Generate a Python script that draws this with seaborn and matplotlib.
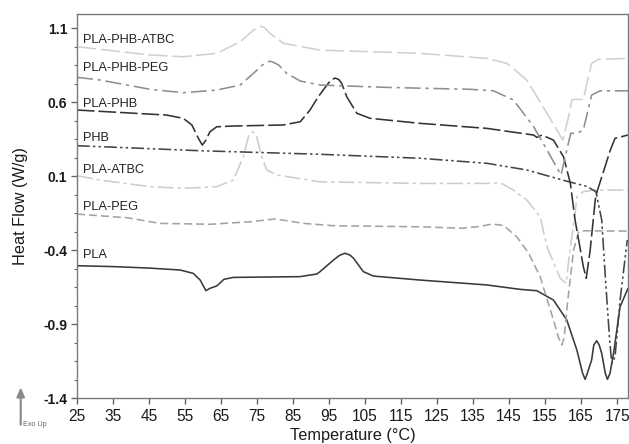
import numpy as np
import pandas as pd
import matplotlib
matplotlib.use("Agg")
import matplotlib.pyplot as plt
from matplotlib.ticker import FixedLocator
import seaborn as sns

# ---------------- data ----------------
pla_T = [25, 35, 45, 53.6, 57.3, 59.2, 60.8, 61.9, 63.8, 65.8, 68.4, 86.9, 91.6, 92.5, 96.2,
         97.9, 99.4, 100.8, 101.8, 104.5, 107.3, 120.3, 138.8, 148.1, 152.7, 157.3, 161,
         163.8, 165.4, 166.1, 166.7, 167.9, 168.5, 169.3, 170.0, 170.7, 171.7, 172.3, 173.0,
         174, 175.8, 178]
pla_v = [-0.506, -0.512, -0.522, -0.535, -0.558, -0.603, -0.675, -0.659, -0.643, -0.598,
         -0.585, -0.580, -0.562, -0.546, -0.468, -0.436, -0.422, -0.434, -0.456, -0.546,
         -0.576, -0.603, -0.636, -0.666, -0.675, -0.738, -0.873, -1.076, -1.233, -1.274,
         -1.233, -1.143, -1.042, -1.013, -1.042, -1.098, -1.233, -1.274, -1.233, -1.098,
         -0.783, -0.659]

plapeg_T = [25, 38.9, 48.1, 62, 73.1, 80.1, 88, 96.3, 120.3, 132, 137, 140.4, 143.5, 147.1,
            150.4, 153.6, 157.3, 158.7, 159.6, 160.3, 161.2, 162.9, 164.3, 166, 178]
plapeg_v = [-0.157, -0.182, -0.220, -0.226, -0.209, -0.190, -0.220, -0.236, -0.243, -0.253,
            -0.240, -0.224, -0.235, -0.310, -0.422, -0.580, -0.873, -0.990, -1.042, -0.990,
            -0.758, -0.400, -0.276, -0.270, -0.272]

plaatbc_T = [25, 31.4, 45.3, 54.5, 63.8, 68.4, 71.2, 72.6, 73.2, 73.7, 74.3, 74.9, 76.3, 77.7,
             80.5, 92.5, 120.3, 138.8, 142.5, 146.2, 149.9, 153.6, 155.5, 159.2, 160.8, 161.9,
             163.3, 163.8, 165.6, 168.4, 178]
plaatbc_v = [0.102, 0.073, 0.028, 0.017, 0.028, 0.073, 0.230, 0.365, 0.390, 0.399, 0.390,
             0.365, 0.230, 0.141, 0.107, 0.061, 0.050, 0.050, 0.055, 0.005, -0.062, -0.175,
             -0.378, -0.591, -0.625, -0.400, -0.152, -0.040, -0.006, 0.005, 0.005]

phb_T = [25, 59.2, 92.5, 120.3, 138.8, 149.9, 161, 166.6, 169.1, 170.7, 171.7, 172.9, 173.5,
         174.4, 175.8, 177.8]
phb_v = [0.305, 0.271, 0.247, 0.220, 0.186, 0.141, 0.065, 0.030, -0.006, -0.197, -0.580,
         -1.008, -1.166, -1.121, -0.738, -0.332]

plaphb_T = [25, 49.9, 54.5, 56.9, 58.7, 59.8, 60.8, 61.9, 63.8, 68.4, 82.3, 87, 89.7, 92, 94.4,
            95.6, 96.7, 97.7, 98.5, 99.9, 102.7, 106.4, 120.3, 138.8, 151.8, 152.7, 154.1,
            157.3, 160.1, 162, 163.3, 164.3, 165.6, 166.4, 167.5, 168.9, 169.4, 173.1, 174.4,
            178]
plaphb_v = [0.546, 0.512, 0.490, 0.445, 0.355, 0.309, 0.343, 0.399, 0.433, 0.438, 0.445, 0.467,
            0.546, 0.636, 0.715, 0.750, 0.762, 0.752, 0.726, 0.636, 0.524, 0.490, 0.456, 0.422,
            0.377, 0.361, 0.377, 0.343, 0.230, 0.050, -0.197, -0.332, -0.513, -0.591, -0.400,
            -0.062, -0.006, 0.276, 0.355, 0.377]

plaphbpeg_T = [25, 31.4, 45.3, 54.5, 63.8, 70.3, 74, 76.5, 77.7, 78.6, 79.6, 81, 83.2, 87,
               92.5, 111, 134.2, 140.6, 146.2, 151.8, 155.5, 159.4, 161, 162.1, 163.8, 165.6,
               166.9, 167.9, 170.3, 178]
plaphbpeg_v = [0.767, 0.749, 0.686, 0.663, 0.681, 0.715, 0.794, 0.850, 0.870, 0.876, 0.868,
               0.850, 0.794, 0.742, 0.715, 0.699, 0.686, 0.676, 0.614, 0.433, 0.276, 0.107,
               0.276, 0.389, 0.389, 0.411, 0.546, 0.647, 0.676, 0.676]

plaphbatbc_T = [25, 45.3, 54.5, 63.8, 70.3, 74, 75.2, 76.1, 77.1, 78.6, 82.3, 92.5, 120.3,
                138.8, 144.4, 149.9, 155.5, 159.9, 161.5, 162.4, 163.3, 165.6, 166.6, 167.9,
                169.8, 178]
plaphbatbc_v = [0.974, 0.918, 0.906, 0.929, 1.007, 1.086, 1.106, 1.112, 1.102, 1.064, 0.997,
                0.951, 0.929, 0.895, 0.861, 0.749, 0.524, 0.343, 0.501, 0.614, 0.618, 0.618,
                0.726, 0.861, 0.888, 0.895]

series_names = ["PLA", "PLA-PEG", "PLA-ATBC", "PHB", "PLA-PHB", "PLA-PHB-PEG", "PLA-PHB-ATBC"]
label_y = [-0.434, -0.107, 0.141, 0.355, 0.584, 0.832, 1.019]
x_ticks = [25, 35, 45, 55, 65, 75, 85, 95, 105, 115, 125, 135, 145, 155, 165, 175]
y_ticks = [-1.4, -0.9, -0.4, 0.1, 0.6, 1.1]
y_minor = [-1.275, -1.15, -1.025, -0.775, -0.65, -0.525, -0.275, -0.15, -0.025,
           0.225, 0.35, 0.475, 0.725, 0.85, 0.975]

# ---------------- styles ----------------
colors = {"PLA": "#3a3a3a", "PLA-PEG": "#a3a3a3", "PLA-ATBC": "#cdcdcd", "PHB": "#454545",
          "PLA-PHB": "#333333", "PLA-PHB-PEG": "#8f8f8f", "PLA-PHB-ATBC": "#d0d0d0"}
dashes = {"PLA": "", "PLA-PEG": (5, 2.5), "PLA-ATBC": (10, 2.5, 2, 2.5),
          "PHB": (8, 2, 1.5, 2, 1.5, 2), "PLA-PHB": (11, 2.5),
          "PLA-PHB-PEG": (10, 3, 2, 3), "PLA-PHB-ATBC": (12, 3)}

frames = []
for name, T, v in [("PLA", pla_T, pla_v), ("PLA-PEG", plapeg_T, plapeg_v),
                   ("PLA-ATBC", plaatbc_T, plaatbc_v), ("PHB", phb_T, phb_v),
                   ("PLA-PHB", plaphb_T, plaphb_v), ("PLA-PHB-PEG", plaphbpeg_T, plaphbpeg_v),
                   ("PLA-PHB-ATBC", plaphbatbc_T, plaphbatbc_v)]:
    frames.append(pd.DataFrame({"T": T, "v": v, "sample": name}))
df = pd.concat(frames, ignore_index=True)

sns.set_theme(style="white")
plt.rcParams["font.family"] = ["Liberation Sans", "DejaVu Sans"]

fig = plt.figure(figsize=(6.29, 4.44), dpi=100)
ax = fig.add_axes([77 / 629, 1 - 398 / 444, (628 - 77) / 629, (398 - 14) / 444])

sns.lineplot(data=df, x="T", y="v", hue="sample", style="sample", palette=colors,
             dashes=dashes, hue_order=series_names, style_order=series_names,
             sort=False, estimator=None, legend=False, linewidth=1.15, ax=ax)

ax.set_xlim(25, 178)
ax.set_ylim(-1.4, 1.195)
ax.xaxis.set_major_locator(FixedLocator(x_ticks))
ax.yaxis.set_major_locator(FixedLocator(y_ticks))
ax.yaxis.set_minor_locator(FixedLocator(y_minor))
ax.set_xticklabels([str(t) for t in x_ticks], fontsize=11.2, color="#1a1a1a")
ax.set_yticklabels([f"{t:.1f}" for t in y_ticks], fontsize=10, fontweight="bold",
                   color="#1a1a1a")
ax.tick_params(axis="both", which="major", direction="out", length=4, width=1,
               color="#666666", bottom=True, left=True, pad=3)
ax.tick_params(axis="x", which="major", pad=4)
ax.tick_params(axis="y", which="minor", direction="out", length=2.5, width=0.8,
               color="#666666", left=True)

for s in ax.spines.values():
    s.set_color("#7a7a7a")
    s.set_linewidth(1.0)

ax.set_xlabel("Temperature (°C)", fontsize=11.7, color="#1a1a1a", labelpad=3)
ax.set_ylabel("Heat Flow (W/g)", fontsize=11.7, color="#1a1a1a", labelpad=11)

for name, yv in zip(series_names, label_y):
    ax.text(26.6, yv, name, fontsize=9.2, color="#222222", va="center", ha="left")

# Exo Up marker
fig.patches.append(matplotlib.patches.FancyArrow(
    20.7 / 629, 1 - 425 / 444, 0, (425 - 389) / 444, width=0.0012, head_width=0.012,
    head_length=0.02, length_includes_head=True, color="#8a8a8a", transform=fig.transFigure))
fig.text(23 / 629, 1 - 424 / 444, "Exo Up", fontsize=5.2, color="#666666", va="center")

fig.savefig("out.png", dpi=100)
